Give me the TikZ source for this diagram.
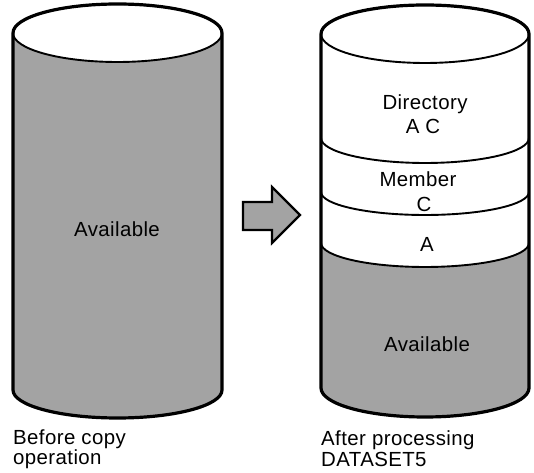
\documentclass[tikz,border=0pt]{standalone}
\usepackage{fontspec}
\setmainfont{Liberation Sans}[LetterSpace=2.0]
\tikzset{
  rim/.style={line width=3.2bp, line join=round},
  band/.style={line width=1.9bp},
  avail/.style={fill=black!36},
  lbl/.style={font=\fontsize{20.5}{23}\selectfont, inner sep=0pt, anchor=base}
}
\begin{document}
\begin{tikzpicture}[x=1bp,y=1bp]
\useasboundingbox (0,0) rectangle (534,473);

% before copy
\fill[avail] (13,440) arc (180:360:104.5 and 29) -- (222,83) arc (0:-180:104.5 and 28) -- cycle;
\draw[band,fill=white] (117.5,440) ellipse (104.5 and 29);
\draw[rim] (13,440) arc (180:0:104.5 and 29);
\draw[rim] (13,440) -- (13,83) arc (180:360:104.5 and 28) -- (222,440);
\node[lbl] (avail1) at (117,236) {Available};

% after processing
\fill[avail] (321,230) arc (180:360:104 and 24) -- (529,85) arc (0:-180:104 and 29) -- cycle;
\draw[band,fill=white] (425,439) ellipse (104 and 29);
\draw[band] (321,335) arc (180:360:104 and 25);
\draw[band] (321,281) arc (180:360:104 and 23);
\draw[band] (321,230) arc (180:360:104 and 24);
\draw[rim] (321,439) arc (180:0:104 and 29);
\draw[rim] (321,439) -- (321,85) arc (180:360:104 and 29) -- (529,439);
\node[lbl] (dir) at (425,363) {Directory};
\node[lbl] (dirac) at (423,339) {A C};
\node[lbl] (mem) at (418,286) {Member};
\node[lbl] (memc) at (424,261) {C};
\node[lbl] (mema) at (427,221) {A};
\node[lbl] (avail2) at (427,121) {Available};

% block arrow
\draw[avail,line width=2.2bp,line join=miter] (243,271) -- (272,271) -- (272,286) -- (300,258)
  -- (272,230) -- (272,243) -- (243,243) -- cycle;

\node[lbl,anchor=base west] (cap1a) at (13,28) {Before copy};
\node[lbl,anchor=base west] (cap1b) at (13,8) {operation};
\node[lbl,anchor=base west] (cap2a) at (321,27) {After processing};
\node[lbl,anchor=base west] (cap2b) at (321,6) {DATASET5};
\end{tikzpicture}
\end{document}
